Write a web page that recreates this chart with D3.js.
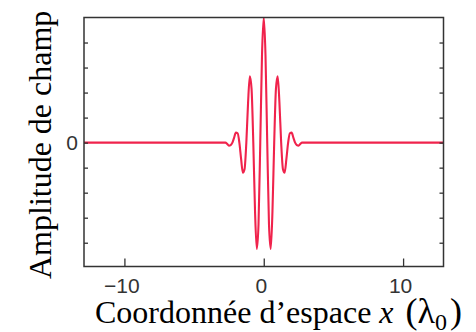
<!DOCTYPE html>
<html>
<head>
<meta charset="utf-8">
<script src="https://cdn.jsdelivr.net/npm/d3@7"></script>
<style>
body{margin:0;background:#fff;}
</style>
</head>
<body>
<div id="chart"></div>
<script>
// wave packet: position (in lambda0) and field amplitude
var waveX = [-12.9, -3, -2.75, -2.625, -2.5, -2.375, -2.25, -2.125, -2, -1.875, -1.75, -1.625,
	-1.5, -1.375, -1.25, -1.125, -1, -0.875, -0.75, -0.625, -0.5, -0.375, -0.25, -0.125,
	0, 0.125, 0.25, 0.375, 0.5, 0.625, 0.75, 0.875, 1, 1.125, 1.25, 1.375,
	1.5, 1.625, 1.75, 1.875, 2, 2.125, 2.25, 2.375, 2.5, 2.625, 2.75, 3, 12.9];
var waveY = [0, 0, 0, -0.01, -0.025, -0.02, 0, 0.04, 0.08, 0.075, 0, -0.13,
	-0.24, -0.21, 0, 0.32, 0.53, 0.43, 0, -0.55, -0.85, -0.65, 0, 0.70,
	1.0, 0.70, 0, -0.65, -0.85, -0.55, 0, 0.43, 0.53, 0.32, 0, -0.21,
	-0.24, -0.13, 0, 0.075, 0.08, 0.04, 0, -0.02, -0.025, -0.01, 0, 0, 0];

var xTicks = [-10, 0, 10];
var yTicks = [-0.8, -0.6, -0.4, -0.2, 0, 0.2, 0.4, 0.6, 0.8];
var yLabels = {"0": "0"};

var width = 476, height = 332;
var pLeft = 84, pRight = 443.5, pTop = 17.5, pBottom = 266.5;

var svg = d3.select("#chart").append("svg")
	.attr("width", width)
	.attr("height", height);

var x = d3.scaleLinear().domain([-12.9, 12.9]).range([pLeft, pRight]);
var y = d3.scaleLinear().domain([-0.99, 1.0]).range([pBottom, pTop]);

svg.append("clipPath").attr("id", "plotclip")
	.append("rect")
	.attr("x", pLeft).attr("y", pTop)
	.attr("width", pRight - pLeft).attr("height", pBottom - pTop);

// the curve
var pts = waveX.map(function(d, i){ return [d, waveY[i]]; });
var line = d3.line()
	.x(function(d){ return x(d[0]); })
	.y(function(d){ return y(d[1]); })
	.curve(d3.curveMonotoneX);

svg.append("path")
	.datum(pts)
	.attr("clip-path", "url(#plotclip)")
	.attr("d", line)
	.attr("fill", "none")
	.attr("stroke", "#f0234c")
	.attr("stroke-width", 2.1)
	.attr("stroke-linejoin", "round");

//axes, ticks inward
var axisColor = "#333";

var gx = svg.append("g")
	.attr("transform", "translate(0," + pBottom + ")")
	.call(d3.axisBottom(x).tickValues(xTicks).tickSize(-8).tickPadding(12));

var gl = svg.append("g")
	.attr("transform", "translate(" + pLeft + ",0)")
	.call(d3.axisLeft(y).tickValues(yTicks).tickSize(-4).tickPadding(6)
		.tickFormat(function(d){ return yLabels[d] || ""; }));

var gr = svg.append("g")
	.attr("transform", "translate(" + pRight + ",0)")
	.call(d3.axisRight(y).tickValues(yTicks).tickSize(-4).tickFormat(""));

[gx, gl, gr].forEach(function(g){
	g.select(".domain").remove();
	g.selectAll("line").attr("stroke", axisColor).attr("stroke-width", 1.3);
	g.selectAll("text")
		.attr("fill", "#333")
		.style("font-family", "'Liberation Sans', Arial, sans-serif")
		.style("font-size", "21px");
});
gx.selectAll("text").attr("dx", -3);

svg.append("rect")
	.attr("x", pLeft).attr("y", pTop)
	.attr("width", pRight - pLeft).attr("height", pBottom - pTop)
	.attr("fill", "none")
	.attr("stroke", axisColor)
	.attr("stroke-width", 1.5);

// titles
var serif = "'Liberation Serif', 'Times New Roman', serif";

var xt = svg.append("text")
	.attr("x", 95).attr("y", 323)
	.style("font-family", serif)
	.style("font-size", "32px")
	.attr("fill", "#000");
xt.append("tspan").text("Coordonnée d’espace ");
xt.append("tspan").style("font-style", "italic").text("x");
xt.append("tspan").attr("dx", 12).style("font-size", "36px").text("(λ");
xt.append("tspan").attr("dy", 7).style("font-size", "24px").text("0");
xt.append("tspan").attr("dy", -7).attr("dx", 3).style("font-size", "36px").text(")");

svg.append("text")
	.attr("transform", "translate(51,279) rotate(-90)")
	.style("font-family", serif)
	.style("font-size", "32px")
	.attr("fill", "#000")
	.text("Amplitude de champ");
</script>
</body>
</html>
